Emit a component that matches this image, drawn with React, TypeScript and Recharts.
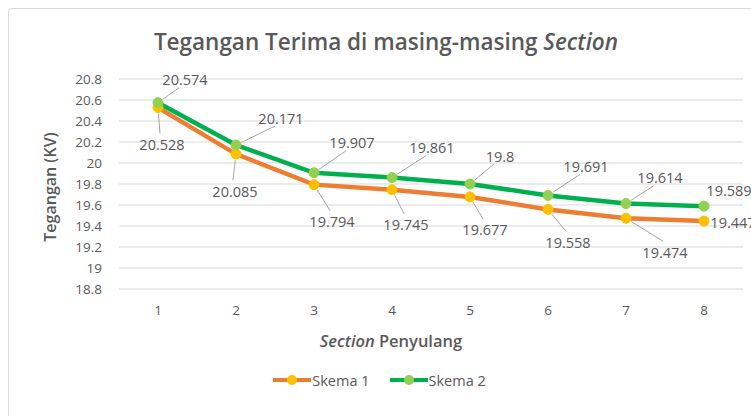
import React from "react";
import {
  LineChart,
  Line,
  XAxis,
  YAxis,
  CartesianGrid,
  Legend,
  LabelList,
} from "recharts";

const sections = ["1", "2", "3", "4", "5", "6", "7", "8"];
const skema1 = [20.528, 20.085, 19.794, 19.745, 19.677, 19.558, 19.474, 19.447];
const skema2 = [20.574, 20.171, 19.907, 19.861, 19.8, 19.691, 19.614, 19.589];
const yTicks = [18.8, 19, 19.2, 19.4, 19.6, 19.8, 20, 20.2, 20.4, 20.6, 20.8];

const data = sections.map((s, i) => ({ section: s, skema1: skema1[i], skema2: skema2[i] }));

const FONT = "'Open Sans', sans-serif";
const TEXT = "#595959";

const COLORS = {
  line1: "#ED7D31",
  dot1: "#FFC000",
  line2: "#00B050",
  dot2: "#92D050",
  grid: "#d9d9d9",
  leader: "#a6a6a6",
};

// label placement relative to each point (dx, dy, leader line?)
const offs1: [number, number, boolean][] = [
  [4, 37, true],
  [-1, 37, true],
  [18, 37, true],
  [14, 35, true],
  [15, 33, true],
  [20, 33, true],
  [39, 34, true],
  [29, 1, false],
];
const offs2: [number, number, boolean][] = [
  [27, -23, true],
  [45, -27, true],
  [38, -30, true],
  [40, -30, true],
  [30, -28, true],
  [38, -29, true],
  [34, -26, true],
  [25, -16, false],
];

function makeLabel(offs: [number, number, boolean][], above: boolean) {
  return (props: any) => {
    const { x, y, index, value } = props;
    const [dx, dy, leader] = offs[index];
    const tx = x + dx;
    const ty = y + dy;
    const ex = above ? tx - 6 : tx - 2;
    const ey = above ? ty + 8 : ty - 11;
    const len = Math.hypot(ex - x, ey - y);
    const sx = x + ((ex - x) / len) * 6;
    const sy = y + ((ey - y) / len) * 6;
    return (
      <g>
        {leader && (
          <line x1={sx} y1={sy} x2={ex} y2={ey} stroke={COLORS.leader} strokeWidth={1} />
        )}
        <text
          x={tx}
          y={ty}
          textAnchor="middle"
          dominantBaseline="central"
          fontSize={14.5}
          fill={TEXT}
          fontFamily={FONT}
        >
          {value}
        </text>
      </g>
    );
  };
}

function LegendContent() {
  const item = (line: string, dot: string, name: string) => (
    <div style={{ display: "flex", alignItems: "center", marginRight: 20 }}>
      <svg width={38} height={12}>
        <line x1={0} y1={6} x2={38} y2={6} stroke={line} strokeWidth={4} />
        <circle cx={19} cy={6} r={5} fill={dot} />
      </svg>
      <span style={{ fontSize: 14.5, color: TEXT, fontFamily: FONT, marginLeft: 1 }}>{name}</span>
    </div>
  );
  return (
    <div style={{ display: "flex", justifyContent: "center", height: 24, alignItems: "center", paddingLeft: 36 }}>
      {item(COLORS.line1, COLORS.dot1, "Skema 1")}
      {item(COLORS.line2, COLORS.dot2, "Skema 2")}
    </div>
  );
}

export default function App() {
  return (
    <div
      style={{
        position: "fixed",
        left: 0,
        top: 0,
        width: 751,
        height: 416,
        overflow: "hidden",
        background: "#fff",
      }}
    >
      <div
        style={{
          position: "absolute",
          left: 8,
          top: 8,
          width: 780,
          height: 440,
          border: "1px solid #d9d9d9",
          borderRadius: 4,
        }}
      />
      <div
        style={{
          position: "absolute",
          left: 0,
          top: 26,
          width: 772,
          textAlign: "center",
          fontFamily: FONT,
          fontSize: 22.5,
          fontWeight: 600,
          color: TEXT,
        }}
      >
        Tegangan Terima di masing-masing <i>Section</i>
      </div>
      <div style={{ position: "absolute", left: 0, top: 0 }}>
        <LineChart
          width={751}
          height={416}
          data={data}
          margin={{ top: 79, right: 8, bottom: 24, left: 0 }}
        >
          <CartesianGrid vertical={false} stroke={COLORS.grid} />
          <XAxis
            dataKey="section"
            height={79}
            axisLine={false}
            tickLine={false}
            tickSize={0}
            tickMargin={16}
            padding={{ left: 39, right: 39 }}
            tick={{ fontSize: 13.5, fill: TEXT, fontFamily: FONT }}
            label={{
              content: (p: any) => {
                const vb = p.viewBox;
                return (
                  <text
                    x={391}
                    y={vb.y + 51}
                    textAnchor="middle"
                    dominantBaseline="central"
                    fontSize={16.5}
                    fontWeight={600}
                    fill={TEXT}
                    fontFamily={FONT}
                  >
                    <tspan fontStyle="italic">Section</tspan> Penyulang
                  </text>
                );
              },
            }}
          />
          <YAxis
            width={119}
            domain={[18.8, 20.8]}
            ticks={yTicks}
            interval={0}
            axisLine={false}
            tickLine={false}
            tickSize={0}
            tickMargin={17}
            tick={{ fontSize: 13.5, fill: TEXT, fontFamily: FONT }}
            label={{
              content: (p: any) => {
                const vb = p.viewBox;
                const cx = 50;
                const cy = vb.y + vb.height / 2 + 3;
                return (
                  <text
                    x={cx}
                    y={cy}
                    transform={`rotate(-90 ${cx} ${cy})`}
                    textAnchor="middle"
                    dominantBaseline="central"
                    fontSize={16}
                    fontWeight={600}
                    fill={TEXT}
                    fontFamily={FONT}
                  >
                    Tegangan (KV)
                  </text>
                );
              },
            }}
          />
          <Legend verticalAlign="bottom" height={24} content={() => <LegendContent />} />
          <Line
            dataKey="skema1"
            name="Skema 1"
            stroke={COLORS.line1}
            strokeWidth={4.5}
            dot={{ r: 5, fill: COLORS.dot1, stroke: COLORS.dot1, strokeWidth: 1 }}
            isAnimationActive={false}
          >
            <LabelList dataKey="skema1" content={makeLabel(offs1, false)} />
          </Line>
          <Line
            dataKey="skema2"
            name="Skema 2"
            stroke={COLORS.line2}
            strokeWidth={4.5}
            dot={{ r: 5, fill: COLORS.dot2, stroke: COLORS.dot2, strokeWidth: 1 }}
            isAnimationActive={false}
          >
            <LabelList dataKey="skema2" content={makeLabel(offs2, true)} />
          </Line>
        </LineChart>
      </div>
    </div>
  );
}
